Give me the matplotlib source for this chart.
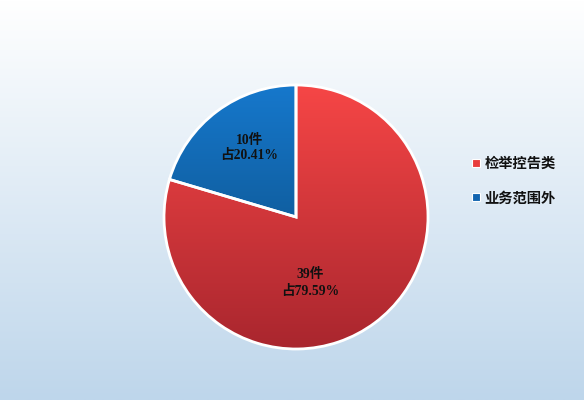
import numpy as np
import matplotlib
matplotlib.use("Agg")
import matplotlib.pyplot as plt
from matplotlib.lines import Line2D
from matplotlib.colors import LinearSegmentedColormap

categories = ["检举控告类", "业务范围外"]
counts = [39, 10]

plt.rcParams['font.family'] = ['Liberation Serif', 'Noto Sans CJK SC', 'DejaVu Sans']

W, H = 584, 400
fig = plt.figure(figsize=(W / 100, H / 100), dpi=100)
ax = fig.add_axes([0, 0, 1, 1])
ax.set_xlim(0, W)
ax.set_ylim(0, H)
ax.set_aspect('equal')
ax.axis('off')

# background gradient
bg = LinearSegmentedColormap.from_list('bg', ['#bed6eb', '#ffffff'])
grad = np.linspace(0, 1, 256).reshape(-1, 1)
ax.imshow(grad, cmap=bg, extent=(0, W, 0, H), origin='lower', aspect='auto', zorder=0)

cx, cy, R = 296, 183, 132
base_colors = ['#e83c3c', '#1265b0']
wedges, _ = ax.pie(counts, colors=base_colors, startangle=90, counterclock=False,
                   center=(cx, cy), radius=R, frame=True,
                   wedgeprops=dict(edgecolor='white', linewidth=2))
ax.set_xlim(0, W)
ax.set_ylim(0, H)
ax.axis('off')

grads = [['#a9262e', '#f64646'], ['#0a4676', '#1678cc']]
for w, g in zip(wedges, grads):
    cm = LinearSegmentedColormap.from_list('g', g)
    im = ax.imshow(grad, cmap=cm, extent=(cx - R, cx + R, cy - R, cy + R),
                   origin='lower', aspect='auto', zorder=2)
    im.set_clip_path(w)
    w.set_zorder(3)
    w.set_facecolor('none')

total = sum(counts)
label_pos = [(-78, 0.51, 1.45), (124, 0.63, 1.2)]
for v, (ang, frac, ls) in zip(counts, label_pos):
    pct = v / total * 100
    x = cx + frac * R * np.cos(np.radians(ang))
    y = cy + frac * R * np.sin(np.radians(ang))
    ax.text(x, y, f"{v}件\n占{pct:.2f}%", ha='center', va='center', fontsize=9.8,
            fontweight='bold', color='#111111', linespacing=ls, zorder=5)

handles = [Line2D([0], [0], marker='s', linestyle='none', markersize=6,
                  markerfacecolor=c, markeredgecolor='white', markeredgewidth=0.8)
           for c in base_colors]
leg = ax.legend(handles, categories, loc='center left', bbox_to_anchor=(456 / W, 219 / H),
                frameon=False, handletextpad=0.1, labelspacing=1.45,
                prop=dict(family=['Noto Sans CJK SC'], weight='bold', size=10.3),
                handlelength=1.0)
for t in leg.get_texts():
    t.set_color('#111111')

fig.savefig('out.png', dpi=100)
